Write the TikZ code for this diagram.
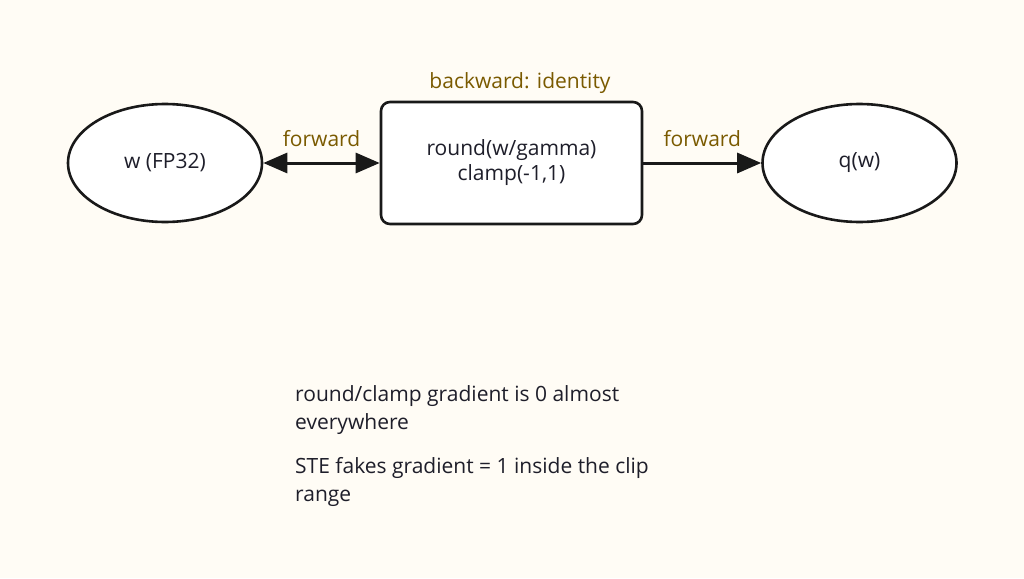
\documentclass[tikz,border=0pt]{standalone}
\usepackage{fontspec}
\setmainfont{Open Sans}
\usetikzlibrary{arrows.meta,shapes.geometric}
\definecolor{bg}{HTML}{FFFCF5}
\definecolor{lbl}{HTML}{7A5A00}
\definecolor{ink}{HTML}{1E1E2A}
\tikzset{
  bigtri/.tip={Triangle[length=24pt,width=20pt]},
  ell/.style={ellipse,draw=black!90,line width=2.6pt,fill=white,minimum width=194pt,minimum height=118pt,inner sep=0pt,text=ink,font=\fontsize{21}{24}\selectfont},
  procbox/.style={rectangle,rounded corners=9pt,draw=black!90,line width=2.6pt,fill=white,minimum width=261pt,minimum height=122pt,align=center,text=ink,font=\fontsize{21}{25}\selectfont},
  conn/.style={line width=3pt,black!90},
  elabel/.style={text=lbl,font=\fontsize{21}{24}\selectfont},
  note/.style={text=ink,font=\fontsize{21}{28}\selectfont,align=left,anchor=north west,inner sep=0pt}
}
\begin{document}
\begin{tikzpicture}[x=1pt,y=-1pt]
\fill[bg] (0,0) rectangle (1024,578);
\useasboundingbox (0,0) rectangle (1024,578);
\node[ell] (w) at (165,163) {w (FP32)};
\node[procbox] (f) at (511.5,163) {round(w/gamma)\\clamp(-1,1)};
\node[ell] (q) at (859.5,163) {q(w)};
\node[elabel] (bl) at (520,83) {backward: identity};
\draw[conn,{bigtri}-{bigtri}] (w) -- node[elabel,above=11pt] (fl) {forward} (f);
\draw[conn,-{bigtri}] (f) -- node[elabel,above=11pt] (fr) {forward} (q);
\node[note] (n1) at (295,385) {round/clamp gradient is 0 almost\\everywhere};
\node[note] (n2) at (295,457) {STE fakes gradient = 1 inside the clip\\range};
\end{tikzpicture}
\end{document}
